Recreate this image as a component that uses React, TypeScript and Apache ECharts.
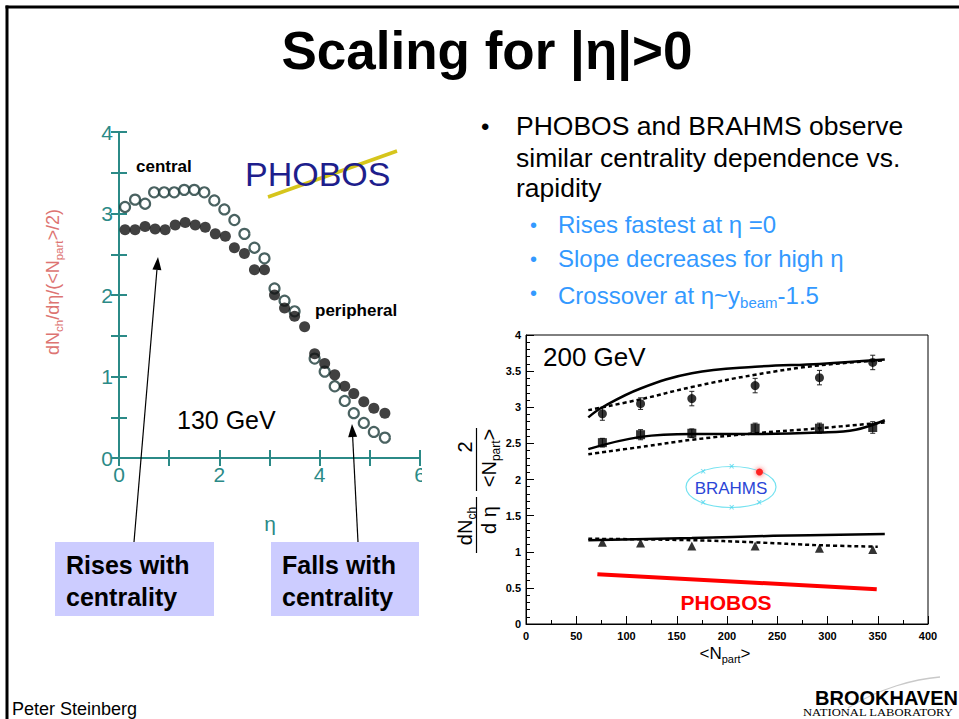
import React, { useEffect, useRef } from "react";
import * as echarts from "echarts";

// ---------- Left panel: PHOBOS 130 GeV, dNch/dη/(<Npart>/2) vs η ----------
const etaOpen = [0.12, 0.32, 0.52, 0.70, 0.90, 1.10, 1.30, 1.50, 1.70, 1.90, 2.10, 2.30, 2.50, 2.70, 2.90, 3.10, 3.30, 3.50, 3.90, 4.10, 4.30, 4.50, 4.68, 4.88, 5.08, 5.30];
const valOpen = [3.08, 3.17, 3.12, 3.26, 3.26, 3.26, 3.29, 3.29, 3.26, 3.16, 3.05, 2.92, 2.75, 2.58, 2.45, 2.08, 1.93, 1.80, 1.22, 1.06, 0.88, 0.70, 0.55, 0.43, 0.32, 0.25];
const etaFilled = [0.12, 0.32, 0.52, 0.72, 0.92, 1.12, 1.32, 1.52, 1.72, 1.92, 2.12, 2.30, 2.50, 2.70, 2.90, 3.10, 3.30, 3.50, 3.70, 3.90, 4.10, 4.30, 4.50, 4.68, 4.88, 5.08, 5.30];
const valFilled = [2.80, 2.80, 2.84, 2.81, 2.80, 2.86, 2.89, 2.86, 2.83, 2.75, 2.72, 2.58, 2.51, 2.31, 2.31, 2.00, 1.84, 1.74, 1.61, 1.28, 1.16, 1.02, 0.88, 0.79, 0.69, 0.61, 0.55];
const leftYTicks = [0, 1, 2, 3, 4];
const leftXTicks = [0, 2, 4, 6];

// ---------- Right panel: BRAHMS 200 GeV vs <Npart> ----------
const npart = [76, 114, 165, 228, 292, 345];
const circVal = [2.91, 3.05, 3.12, 3.30, 3.41, 3.62];
const circErr = [0.09, 0.08, 0.10, 0.10, 0.10, 0.10];
const sqVal = [2.51, 2.62, 2.64, 2.71, 2.71, 2.72];
const sqErr = [0.06, 0.07, 0.06, 0.07, 0.07, 0.08];
const triVal = [1.13, 1.12, 1.08, 1.08, 1.05, 1.03];

const solidTopX = [62, 76, 114, 165, 228, 292, 357];
const solidTopY = [2.86, 3.0, 3.26, 3.47, 3.56, 3.60, 3.66];
const dotTopX = [62, 114, 165, 228, 292, 357];
const dotTopY = [2.96, 3.11, 3.28, 3.45, 3.58, 3.65];
const solidMidX = [62, 114, 165, 228, 292, 328, 357];
const solidMidY = [2.42, 2.59, 2.63, 2.63, 2.65, 2.69, 2.82];
const dotMidX = [62, 114, 165, 228, 292, 357];
const dotMidY = [2.35, 2.45, 2.55, 2.64, 2.71, 2.79];
const solidBotX = [62, 165, 246, 357];
const solidBotY = [1.16, 1.19, 1.22, 1.245];
const dotBotX = [62, 165, 228, 292, 350];
const dotBotY = [1.18, 1.16, 1.13, 1.09, 1.07];
const phobosX = [71, 349];
const phobosY = [0.69, 0.48];

const TEAL = "#2b8a87";
const FONT = "Liberation Sans, Arial, sans-serif";

const zip = (xs: number[], ys: number[]) => xs.map((x, i) => [x, ys[i]]);

function arrow(x1: number, y1: number, x2: number, y2: number) {
  const head = 13, half = 4.5;
  const dx = x2 - x1, dy = y2 - y1, L = Math.hypot(dx, dy);
  const ux = dx / L, uy = dy / L;
  const bx = x2 - ux * head, by = y2 - uy * head;
  return [
    { type: "line", z: 50, shape: { x1, y1, x2: bx, y2: by }, style: { stroke: "#000", lineWidth: 1.2 } },
    { type: "polygon", z: 50, shape: { points: [[x2, y2], [bx - uy * half, by + ux * half], [bx + uy * half, by - ux * half]] }, style: { fill: "#000" } },
  ];
}

function txt(x: number, y: number, text: string, fontSize: number, extra: any = {}, styleExtra: any = {}) {
  return {
    type: "text", x, y, z: 60, ...extra,
    style: { text, fontSize, fontFamily: FONT, fill: "#000", align: "left", verticalAlign: "middle", ...styleExtra },
  };
}

const subRich = (size: number, sub: number, lh: number, color: string, bold = false) => ({
  a: { fontSize: size, lineHeight: lh, fontFamily: FONT, fill: color, color, fontWeight: bold ? "bold" : "normal" },
  s: { fontSize: sub, lineHeight: sub, fontFamily: FONT, fill: color, color, verticalAlign: "bottom", fontWeight: bold ? "bold" : "normal" },
});

function errorBars(vals: number[], errs: number[]) {
  return {
    type: "custom",
    xAxisIndex: 2,
    yAxisIndex: 2,
    z: 3,
    data: npart.map((n, i) => [n, vals[i] - errs[i], vals[i] + errs[i]]),
    encode: { x: 0, y: [1, 2] },
    renderItem: (_p: any, api: any) => {
      const lo = api.coord([api.value(0), api.value(1)]);
      const hi = api.coord([api.value(0), api.value(2)]);
      const st = { stroke: "#222", lineWidth: 1 };
      return {
        type: "group",
        children: [
          { type: "line", shape: { x1: lo[0], y1: lo[1], x2: hi[0], y2: hi[1] }, style: st },
          { type: "line", shape: { x1: lo[0] - 2.5, y1: lo[1], x2: lo[0] + 2.5, y2: lo[1] }, style: st },
          { type: "line", shape: { x1: hi[0] - 2.5, y1: hi[1], x2: hi[0] + 2.5, y2: hi[1] }, style: st },
        ],
      };
    },
  };
}

export default function App() {
  const ref = useRef<HTMLDivElement>(null);
  useEffect(() => {
    if (!ref.current) return;
    const chart = echarts.init(ref.current, undefined, { renderer: "svg" });

    const leftAxisCommon = {
      gridIndex: 0,
      type: "value",
      axisLine: { show: true, lineStyle: { color: TEAL, width: 2 } },
      axisTick: { show: true, inside: true, length: 8, lineStyle: { color: TEAL, width: 2 } },
      splitLine: { show: false },
    };

    const graphics: any[] = [
      // slide frame
      { type: "line", shape: { x1: 5.5, y1: 7, x2: 959, y2: 7 }, style: { stroke: "#000", lineWidth: 3 } },
      { type: "line", shape: { x1: 7, y1: 5.5, x2: 7, y2: 719 }, style: { stroke: "#000", lineWidth: 3 } },
      // title
      txt(487, 50, "Scaling for |\u03b7|>0", 53, {}, { fontWeight: "bold", align: "center" }),
      // bullets
      txt(481, 126, "\u2022", 24),
      txt(516, 126, "PHOBOS and BRAHMS observe", 26.5),
      txt(516, 157.5, "similar centrality dependence vs.", 26.5),
      txt(516, 188, "rapidity", 26.5),
      txt(530, 224.5, "\u2022", 20, {}, { fill: "#3399ff" }),
      txt(530, 258.5, "\u2022", 20, {}, { fill: "#3399ff" }),
      txt(530, 293, "\u2022", 20, {}, { fill: "#3399ff" }),
      txt(558, 224.5, "Rises fastest at \u03b7 =0", 24, {}, { fill: "#3399ff" }),
      txt(558, 258.5, "Slope decreases for high \u03b7", 24, {}, { fill: "#3399ff" }),
      {
        type: "text", x: 558, y: 295, z: 60,
        style: {
          text: "{a|Crossover at \u03b7~y}{s|beam}{a|-1.5}",
          rich: subRich(24, 15, 30, "#3399ff"),
          fill: "#3399ff",
          align: "left", verticalAlign: "middle",
        },
      },
      // left panel annotations
      txt(136, 166.5, "central", 17, {}, { fontWeight: "bold" }),
      txt(315, 310, "peripheral", 17, {}, { fontWeight: "bold" }),
      txt(177, 420, "130 GeV", 25),
      txt(270, 523, "\u03b7", 21, {}, { fill: TEAL, align: "center" }),
      {
        type: "text", x: 53, y: 282, rotation: Math.PI / 2, z: 60,
        style: {
          text: "{a|dN}{s|ch}{a|/d\u03b7/(<N}{s|part}{a|>/2)}",
          rich: subRich(18, 11.5, 24, "#dd7472"),
          fill: "#dd7472",
          align: "center", verticalAlign: "middle",
        },
      },
      // PHOBOS logo (approximation)
      { type: "line", z: 55, shape: { x1: 268, y1: 197, x2: 397, y2: 151 }, style: { stroke: "#d6c51c", lineWidth: 3.5 } },
      txt(245, 174, "PHOBOS", 34, {}, { fill: "#1e1e8c" }),
      // callout boxes
      { type: "rect", z: 40, shape: { x: 55, y: 542, width: 159, height: 74 }, style: { fill: "#ccccff" } },
      { type: "rect", z: 40, shape: { x: 271, y: 542, width: 148, height: 74 }, style: { fill: "#ccccff" } },
      txt(66, 564.5, "Rises with", 25, {}, { fontWeight: "bold" }),
      txt(66, 596.5, "centrality", 25, {}, { fontWeight: "bold" }),
      txt(282, 564.5, "Falls with", 25, {}, { fontWeight: "bold" }),
      txt(282, 596.5, "centrality", 25, {}, { fontWeight: "bold" }),
      ...arrow(134, 542, 158, 257),
      ...arrow(358, 542, 352, 424),
      // clip of the left panel at its right edge
      { type: "rect", z: 100, shape: { x: 422, y: 115, width: 30, height: 380 }, style: { fill: "#fff" } },
      // right panel annotations
      txt(543, 357, "200 GeV", 26),
      txt(726, 602, "PHOBOS", 21, {}, { fill: "#ff0000", fontWeight: "bold", align: "center" }),
      {
        type: "text", x: 725, y: 653, z: 60,
        style: { text: "{a|<N}{s|part}{a|>}", rich: subRich(17, 11, 22, "#000"), align: "center", verticalAlign: "middle" },
      },
      // right panel y-axis name (two stacked fractions, rotated)
      {
        type: "text", x: 465, y: 526, rotation: Math.PI / 2, z: 60,
        style: { text: "{a|dN}{s|ch}", rich: subRich(20, 12, 26, "#000"), align: "center", verticalAlign: "middle" },
      },
      {
        type: "text", x: 489, y: 520, rotation: Math.PI / 2, z: 60,
        style: { text: "{a|d \u03b7}", rich: subRich(20, 12, 26, "#000"), align: "center", verticalAlign: "middle" },
      },
      { type: "line", z: 60, shape: { x1: 476.5, y1: 497, x2: 476.5, y2: 553 }, style: { stroke: "#000", lineWidth: 1.2 } },
      {
        type: "text", x: 465, y: 447, rotation: Math.PI / 2, z: 60,
        style: { text: "{a|2}", rich: subRich(20, 12, 26, "#000"), align: "center", verticalAlign: "middle" },
      },
      {
        type: "text", x: 489, y: 458, rotation: Math.PI / 2, z: 60,
        style: { text: "{a|<N}{s|part}{a|>}", rich: subRich(20, 12, 26, "#000"), align: "center", verticalAlign: "middle" },
      },
      { type: "line", z: 60, shape: { x1: 476.5, y1: 428, x2: 476.5, y2: 491 }, style: { stroke: "#000", lineWidth: 1.2 } },
      // BRAHMS logo
      { type: "ellipse", z: 55, shape: { cx: 731, cy: 487, rx: 45, ry: 20.5 }, style: { fill: "none", stroke: "#74e2f0", lineWidth: 1.2 } },
      txt(731, 488.5, "BRAHMS", 17, {}, { fill: "#2b45d6", align: "center" }),
      ...[[703, 471.5], [731.5, 466.5], [703, 502.5], [731.5, 507.5], [759, 502.5]].map(([x, y]) =>
        txt(x, y, "\u00d7", 10, {}, { fill: "#55d8ee", align: "center" })),
      { type: "circle", z: 56, shape: { cx: 759.5, cy: 472, r: 3.5 }, style: { fill: "#ff2020", shadowBlur: 5, shadowColor: "#ff4040" } },
      // footer
      txt(12, 708.5, "Peter Steinberg", 18),
      { type: "bezierCurve", z: 55, shape: { x1: 848, y1: 708, cpx1: 880, cpy1: 688, x2: 940, y2: 677, cpx2: 915, cpy2: 679 }, style: { stroke: "#c9c9c9", lineWidth: 1.3, fill: "none" } },
      txt(815, 697.5, "BROOKHAVEN", 20, {}, { fontWeight: "bold" }),
      txt(803, 713, "NATIONAL LABORATORY", 10.5, { scaleX: 1.2 }, { fontFamily: "Liberation Serif, serif" }),
    ];

    const option: any = {
      animation: false,
      backgroundColor: "#fff",
      grid: [
        { left: 119, top: 132, width: 301, height: 326, show: false },
        { left: 526, top: 335, width: 402, height: 289, show: true, borderColor: "#000", borderWidth: 1 },
      ],
      xAxis: [
        {
          ...leftAxisCommon, position: "bottom", min: 0, max: 6, interval: 1,
          axisLabel: {
            color: TEAL, fontSize: 21, fontFamily: FONT, margin: 6,
            formatter: (v: number) => (leftXTicks.includes(v) ? String(v) : ""),
          },
        },
        { ...leftAxisCommon, position: "top", min: 0, max: 6, interval: 1, axisLabel: { show: false } },
        {
          gridIndex: 1, type: "value", min: 0, max: 400, interval: 50,
          axisLine: { show: true, lineStyle: { color: "#000", width: 1 } },
          axisTick: { show: true, inside: true, length: 8, lineStyle: { color: "#000" } },
          minorTick: { show: true, splitNumber: 2, length: 4, lineStyle: { color: "#000" } },
          splitLine: { show: false },
          axisLabel: { color: "#000", fontSize: 11, fontWeight: "bold", fontFamily: FONT, margin: 6 },
        },
      ],
      yAxis: [
        {
          ...leftAxisCommon, position: "left", min: 0, max: 4, interval: 0.5,
          axisLabel: {
            color: TEAL, fontSize: 21, fontFamily: FONT, margin: 6,
            formatter: (v: number) => (leftYTicks.includes(v) ? String(v) : ""),
          },
        },
        { ...leftAxisCommon, position: "right", min: 0, max: 4, interval: 0.5, axisLabel: { show: false } },
        {
          gridIndex: 1, type: "value", min: 0, max: 4, interval: 0.5,
          axisLine: { show: true, lineStyle: { color: "#000", width: 1 } },
          axisTick: { show: true, inside: true, length: 8, lineStyle: { color: "#000" } },
          minorTick: { show: true, splitNumber: 5, length: 4, lineStyle: { color: "#000" } },
          splitLine: { show: false },
          axisLabel: { color: "#000", fontSize: 11, fontWeight: "bold", fontFamily: FONT, margin: 5 },
        },
      ],
      series: [
        {
          type: "scatter", xAxisIndex: 0, yAxisIndex: 0, data: zip(etaOpen, valOpen),
          symbol: "circle", symbolSize: 10,
          itemStyle: { color: "#fff", borderColor: "#1d3b3a", borderWidth: 2.2 },
        },
        {
          type: "scatter", xAxisIndex: 0, yAxisIndex: 0, data: zip(etaFilled, valFilled),
          symbol: "circle", symbolSize: 11, itemStyle: { color: "#111" },
        },
        // models
        { type: "line", xAxisIndex: 2, yAxisIndex: 2, data: zip(solidTopX, solidTopY), smooth: 0.4, showSymbol: false, lineStyle: { color: "#000", width: 2.5 } },
        { type: "line", xAxisIndex: 2, yAxisIndex: 2, data: zip(dotTopX, dotTopY), smooth: 0.4, showSymbol: false, lineStyle: { color: "#000", width: 2.5, type: [4, 3] } },
        { type: "line", xAxisIndex: 2, yAxisIndex: 2, data: zip(solidMidX, solidMidY), smooth: 0.4, showSymbol: false, lineStyle: { color: "#000", width: 2.5 } },
        { type: "line", xAxisIndex: 2, yAxisIndex: 2, data: zip(dotMidX, dotMidY), smooth: 0.4, showSymbol: false, lineStyle: { color: "#000", width: 2.5, type: [4, 3] } },
        { type: "line", xAxisIndex: 2, yAxisIndex: 2, data: zip(solidBotX, solidBotY), smooth: 0.4, showSymbol: false, lineStyle: { color: "#000", width: 2.5 } },
        { type: "line", xAxisIndex: 2, yAxisIndex: 2, data: zip(dotBotX, dotBotY), smooth: 0.4, showSymbol: false, lineStyle: { color: "#000", width: 2.5, type: [4, 3] } },
        { type: "line", xAxisIndex: 2, yAxisIndex: 2, data: zip(phobosX, phobosY), showSymbol: false, lineStyle: { color: "#ff0000", width: 4 } },
        // data
        errorBars(circVal, circErr),
        errorBars(sqVal, sqErr),
        { type: "scatter", xAxisIndex: 2, yAxisIndex: 2, z: 4, data: zip(npart, circVal), symbol: "circle", symbolSize: 9, itemStyle: { color: "#000" } },
        { type: "scatter", xAxisIndex: 2, yAxisIndex: 2, z: 4, data: zip(npart, sqVal), symbol: "rect", symbolSize: 9, itemStyle: { color: "#000" } },
        { type: "scatter", xAxisIndex: 2, yAxisIndex: 2, z: 4, data: zip(npart, triVal), symbol: "triangle", symbolSize: 9, itemStyle: { color: "#000" } },
      ],
      graphic: { elements: graphics },
    };

    chart.setOption(option);
    return () => chart.dispose();
  }, []);

  return <div ref={ref} style={{ position: "absolute", left: 0, top: 0, width: 959, height: 719 }} />;
}
